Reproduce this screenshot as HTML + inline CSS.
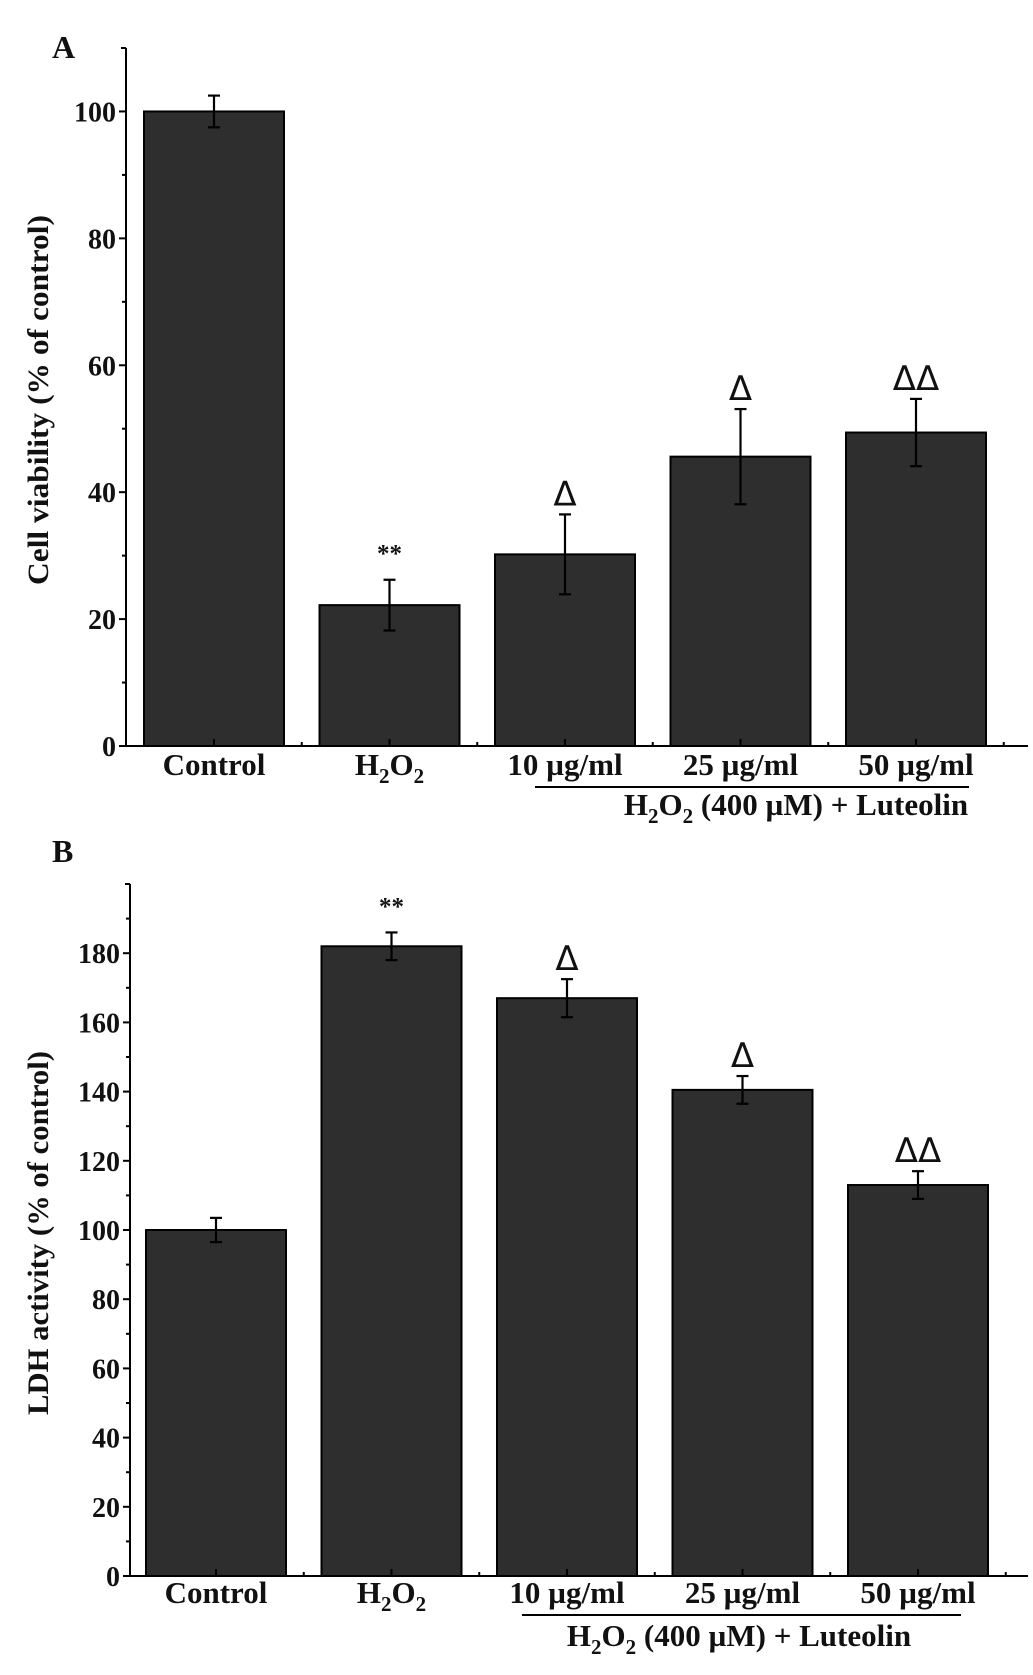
<!DOCTYPE html>
<html><head><meta charset="utf-8"><style>
html,body{margin:0;padding:0;background:#fff;}
svg{display:block;}
text{font-family:"Liberation Serif",serif;font-weight:bold;fill:#111;}
.sans{font-family:"DejaVu Sans","Liberation Sans",sans-serif;font-weight:normal;}
</style></head><body>
<svg id="fig" width="1033" height="1675" viewBox="0 0 1033 1675" xmlns="http://www.w3.org/2000/svg"></svg>
<script>
const categories = ["Control", "H2O2", "10 µg/ml", "25 µg/ml", "50 µg/ml"];
const viabilityValues = [100, 22.2, 30.2, 45.6, 49.4];
const viabilityErrors = [2.5, 4.0, 6.3, 7.5, 5.3];
const viabilityMarks = ["", "**", "Δ", "Δ", "ΔΔ"];
const viabilityTicks = [0, 20, 40, 60, 80, 100];
const ldhValues = [100, 182, 167, 140.5, 113];
const ldhErrors = [3.5, 4.0, 5.5, 4.0, 4.0];
const ldhMarks = ["", "**", "Δ", "Δ", "ΔΔ"];
const ldhTicks = [0, 20, 40, 60, 80, 100, 120, 140, 160, 180];

const NS = "http://www.w3.org/2000/svg";
const svg = document.getElementById("fig");
function mk(tag, attrs, parent) {
  const e = document.createElementNS(NS, tag);
  for (const k in attrs) e.setAttribute(k, attrs[k]);
  (parent || svg).appendChild(e);
  return e;
}
function catLabel(g, txt, x, y) {
  const t = mk("text", {x: x, y: y, "text-anchor": "middle", "font-size": 31}, g);
  if (txt === "H2O2") {
    t.innerHTML = 'H<tspan font-size="21" dy="8">2</tspan><tspan dy="-8">O</tspan><tspan font-size="21" dy="8">2</tspan>';
  } else t.textContent = txt;
  return t;
}

function panel(p) {
  const g = mk("g", {});
  
  
  const yScale = v => p.y0 - (v / p.vmax) * (p.y0 - p.ytop);
  const bw = 140;
  const step = 175.5;
  const xCenter = i => p.firstLeft + bw / 2 + i * step;
  const L = mk("text", {x: 52, y: p.letterY, "font-size": 32}, g);
  L.textContent = p.letter;
  
  
  p.values.forEach((v, i) => {
    const cx = xCenter(i);
    const r = mk("rect", {x: cx - bw / 2, y: yScale(v), width: bw, height: p.y0 - yScale(v), fill: "#2e2e2e", stroke: "#000", "stroke-width": 2}, g);
    
    
    const e = p.errors[i];
    const eg = mk("g", {stroke: "#000", "stroke-width": 2.2}, g);
    
    
    mk("line", {x1: cx, x2: cx, y1: yScale(v + e), y2: yScale(v - e)}, eg);
    mk("line", {x1: cx - 6, x2: cx + 6, y1: yScale(v + e), y2: yScale(v + e)}, eg);
    mk("line", {x1: cx - 6, x2: cx + 6, y1: yScale(v - e), y2: yScale(v - e)}, eg);
    if (p.marks[i]) {
      const star = p.marks[i] === "**";
      const t = mk("text", {x: cx, y: yScale(v + e) - (star ? 18 : 9), "text-anchor": "middle", "font-size": star ? 25 : 34, "class": star ? "" : "sans"}, g);
      t.textContent = p.marks[i];
      
      
    }
  });
  const ax = mk("g", {stroke: "#000", "stroke-width": 2}, g);
  
  
  mk("line", {x1: p.xAxis, x2: p.xAxis, y1: p.ytop, y2: p.y0 + 1}, ax);
  mk("line", {x1: p.xAxis, x2: p.xEnd, y1: p.y0, y2: p.y0}, ax);
  for (let v = 0; v <= p.vmax; v += 10) {
    const major = p.ticks.includes(v);
    mk("line", {x1: p.xAxis - (major ? 7 : 4), x2: p.xAxis, y1: yScale(v), y2: yScale(v)}, ax);
  }
  mk("line", {x1: p.xAxis - 5, x2: p.xAxis, y1: p.ytop, y2: p.ytop}, ax);
  for (let i = 0; i < 5; i++) mk("line", {x1: xCenter(i), x2: xCenter(i), y1: p.y0 - 7, y2: p.y0}, ax);
  for (let i = 0; i < 5; i++) { const xm = xCenter(i) + step / 2; if (xm < p.xEnd) mk("line", {x1: xm, x2: xm, y1: p.y0 - 4, y2: p.y0}, ax); }
  p.ticks.forEach(v => {
    const t = mk("text", {x: p.xAxis - 10, y: yScale(v) + 10, "text-anchor": "end", "font-size": 28}, g);
    t.textContent = v;
    
    
  });
  const yt = mk("text", {x: 0, y: 0, "text-anchor": "middle", "font-size": 30, textLength: p.titleLen, lengthAdjust: "spacingAndGlyphs", transform: "translate(48," + p.titleY + ") rotate(-90)"}, g);
  yt.textContent = p.title;
  
  
  categories.forEach((c, i) => {
    const t = catLabel(g, c, xCenter(i), p.catY);
    
    
  });
  const br = mk("line", {x1: p.brX1, x2: p.brX2, y1: p.brY, y2: p.brY, stroke: "#000", "stroke-width": 2}, g);
  
  
  const lt = mk("text", {x: p.lutX, y: p.lutY, "text-anchor": "middle", "font-size": 31}, g);
  lt.innerHTML = 'H<tspan font-size="21" dy="8">2</tspan><tspan dy="-8">O</tspan><tspan font-size="21" dy="8">2</tspan><tspan dy="-8"> (400 µM) + Luteolin</tspan>';
  
  
}

panel({name: "panel-a-cell-viability", letter: "A", letterY: 58, values: viabilityValues, errors: viabilityErrors, marks: viabilityMarks, ticks: viabilityTicks,
  vmax: 110, y0: 746, ytop: 48, xAxis: 126, xEnd: 1028, firstLeft: 144, title: "Cell viability (% of control)", titleY: 400, titleLen: 370,
  catY: 775, brX1: 535, brX2: 969, brY: 787, lutX: 796, lutY: 815});
panel({name: "panel-b-ldh-activity", letter: "B", letterY: 862, values: ldhValues, errors: ldhErrors, marks: ldhMarks, ticks: ldhTicks,
  vmax: 200, y0: 1576, ytop: 884, xAxis: 130, xEnd: 1028, firstLeft: 146, title: "LDH activity (% of control)", titleY: 1233, titleLen: 364,
  catY: 1603, brX1: 522, brX2: 961, brY: 1615, lutX: 739, lutY: 1646});
</script>
</body></html>
